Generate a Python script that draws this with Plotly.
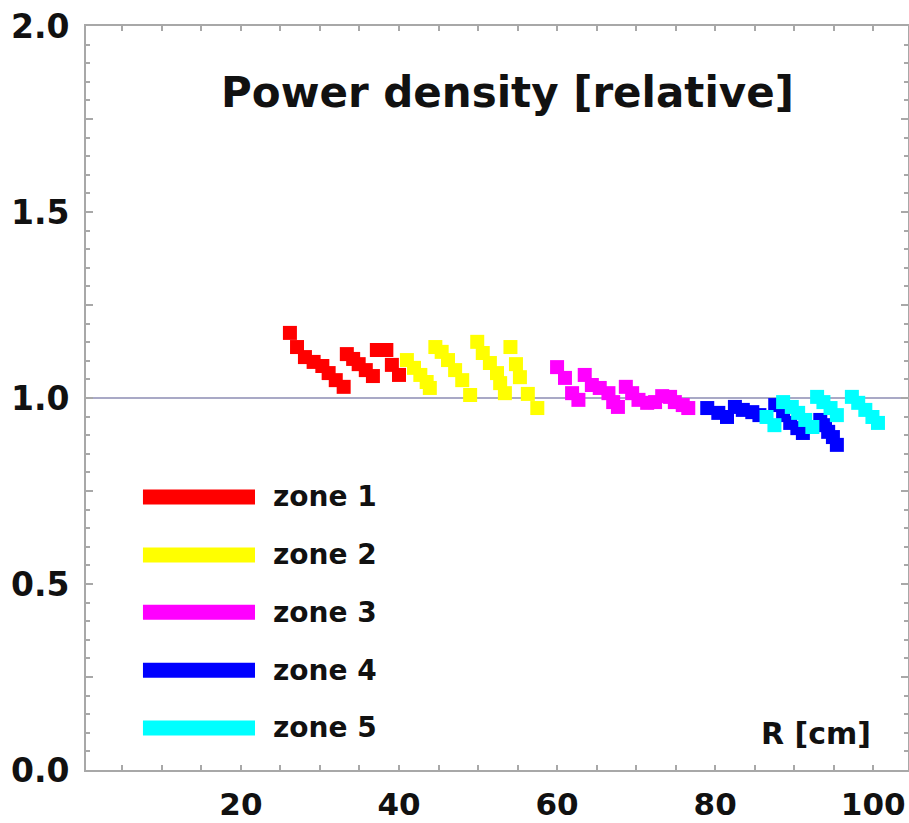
import plotly.graph_objects as go

# ---- data ----
zone_names = ["zone 1", "zone 2", "zone 3", "zone 4", "zone 5"]
zone_colors = ["#ff0000", "#ffff00", "#ff00ff", "#0000ff", "#00ffff"]

zone1_r = [26.2, 27.1, 28.1, 29.2, 30.3, 31.1, 32.0, 33.0,
           33.4, 34.2, 34.9, 35.8, 36.7,
           37.2, 38.4, 39.1, 40.0]
zone1_p = [1.175, 1.137, 1.110, 1.097, 1.086, 1.067, 1.048, 1.030,
           1.118, 1.105, 1.091, 1.075, 1.059,
           1.129, 1.129, 1.089, 1.062]

zone2_r = [41.0, 41.9, 42.7, 43.5, 43.9,
           44.6, 45.4, 46.2, 47.1, 48.0, 49.0,
           49.9, 50.6, 51.5, 52.4, 52.8, 53.4,
           54.1, 54.8, 55.3, 56.3, 57.5]
zone2_p = [1.102, 1.081, 1.062, 1.043, 1.027,
           1.137, 1.124, 1.102, 1.075, 1.048, 1.008,
           1.151, 1.121, 1.094, 1.067, 1.040, 1.013,
           1.137, 1.091, 1.056, 1.011, 0.973]

zone3_r = [60.0, 61.0, 61.9, 62.7,
           63.5, 64.4, 65.4, 66.5, 67.1, 67.7,
           68.7, 69.5, 70.3, 71.4, 72.4, 73.3, 74.3, 74.9, 75.9, 76.6]
zone3_p = [1.083, 1.054, 1.013, 0.995,
           1.062, 1.035, 1.027, 1.013, 0.989, 0.976,
           1.030, 1.013, 0.995, 0.987, 0.989, 1.005, 1.003, 0.989, 0.981, 0.973]

zone4_r = [79.0, 80.4, 81.5, 82.5, 83.5, 84.7, 85.6,
           87.6, 88.6, 89.5, 90.4, 91.1,
           93.3, 93.9, 94.3, 94.9, 95.4]
zone4_p = [0.973, 0.960, 0.949, 0.976, 0.968, 0.962, 0.954,
           0.981, 0.954, 0.933, 0.919, 0.906,
           0.941, 0.927, 0.909, 0.895, 0.874]

zone5_r = [86.5, 87.5,
           88.6, 89.7, 90.5, 91.4, 92.3,
           92.9, 93.7, 94.6, 95.4,
           97.3, 98.1, 99.0, 99.9, 100.6]
zone5_p = [0.949, 0.927,
           0.989, 0.976, 0.960, 0.941, 0.922,
           1.003, 0.989, 0.973, 0.954,
           1.003, 0.987, 0.968, 0.949, 0.933]

zones_r = [zone1_r, zone2_r, zone3_r, zone4_r, zone5_r]
zones_p = [zone1_p, zone2_p, zone3_p, zone4_p, zone5_p]

x_tick_vals = [20, 40, 60, 80, 100]
y_tick_vals = [0.0, 0.25, 0.5, 0.75, 1.0, 1.25, 1.5, 1.75, 2.0]
y_tick_text = ["0.0", "", "0.5", "", "1.0", "", "1.5", "", "2.0"]
reference_level = 1.0

title_text = "Power density [relative]"
x_label = "R [cm]"

FONT = "DejaVu Sans"
AXIS_COL = "#a8a8a8"

fig = go.Figure()

for name, col, rr, pp in zip(zone_names, zone_colors, zones_r, zones_p):
    fig.add_trace(go.Scatter(
        x=rr, y=pp, mode="markers", name=name,
        marker=dict(symbol="square", size=14, color=col, line=dict(width=0)),
        showlegend=False, hoverinfo="skip",
    ))

# reference line at 1.0
fig.add_shape(type="line", xref="paper", x0=0, x1=1, yref="y",
              y0=reference_level, y1=reference_level,
              line=dict(color="#a9a9c6", width=2), layer="below")

# custom legend (long thick bars)
leg_y = [0.367, 0.289, 0.212, 0.134, 0.0565]
for name, col, yy in zip(zone_names, zone_colors, leg_y):
    fig.add_shape(type="line", xref="paper", yref="paper",
                  x0=0.0693, x1=0.2056, y0=yy, y1=yy,
                  line=dict(color=col, width=15))
    fig.add_annotation(xref="paper", yref="paper", x=0.2250, y=yy,
                       xanchor="left", yanchor="middle", text=name,
                       showarrow=False,
                       font=dict(family=FONT, size=28, color="#111111", weight="bold"))

fig.add_annotation(xref="paper", yref="paper", x=0.513, y=0.91,
                   xanchor="center", yanchor="middle", text=title_text,
                   showarrow=False,
                   font=dict(family=FONT, size=42, color="#111111", weight="bold"))

fig.add_annotation(xref="paper", yref="paper", x=0.888, y=0.0497,
                   xanchor="center", yanchor="middle", text=x_label,
                   showarrow=False,
                   font=dict(family=FONT, size=30, color="#111111", weight="bold"))

fig.update_layout(
    width=909, height=823,
    margin=dict(l=86, r=1, t=26, b=53),
    paper_bgcolor="white", plot_bgcolor="white",
    showlegend=False,
)

fig.update_xaxes(
    range=[0.4, 104.4], showgrid=False, zeroline=False, automargin=False,
    showline=True, linecolor=AXIS_COL, linewidth=2, mirror="ticks",
    ticks="inside", ticklen=5, tickwidth=1.5, tickcolor=AXIS_COL,
    tickmode="array", tickvals=x_tick_vals,
    ticklabelstandoff=6, ticklabeloverflow="allow",
    tickfont=dict(family=FONT, size=31, color="#111111", weight="bold"),
    minor=dict(dtick=5, ticks="inside", ticklen=5, tickwidth=1.5, tickcolor=AXIS_COL, showgrid=False),
)
fig.update_yaxes(
    range=[0, 2.0], showgrid=False, zeroline=False, automargin=False,
    showline=True, linecolor=AXIS_COL, linewidth=2, mirror="ticks",
    ticks="inside", ticklen=7, tickwidth=1.5, tickcolor=AXIS_COL,
    tickmode="array", tickvals=y_tick_vals, ticktext=y_tick_text,
    ticklabelstandoff=8, ticklabeloverflow="allow",
    tickfont=dict(family=FONT, size=33, color="#111111", weight="bold"),
    minor=dict(dtick=0.05, tick0=0, ticks="inside", ticklen=4, tickwidth=1.5, tickcolor=AXIS_COL, showgrid=False),
)

# remove the default 8px body margin so the figure fills the window exactly
fig.write_html(
    "out.html",
    config={"displayModeBar": False},
    post_script="document.body.style.margin='0';document.body.style.overflow='hidden';",
)
